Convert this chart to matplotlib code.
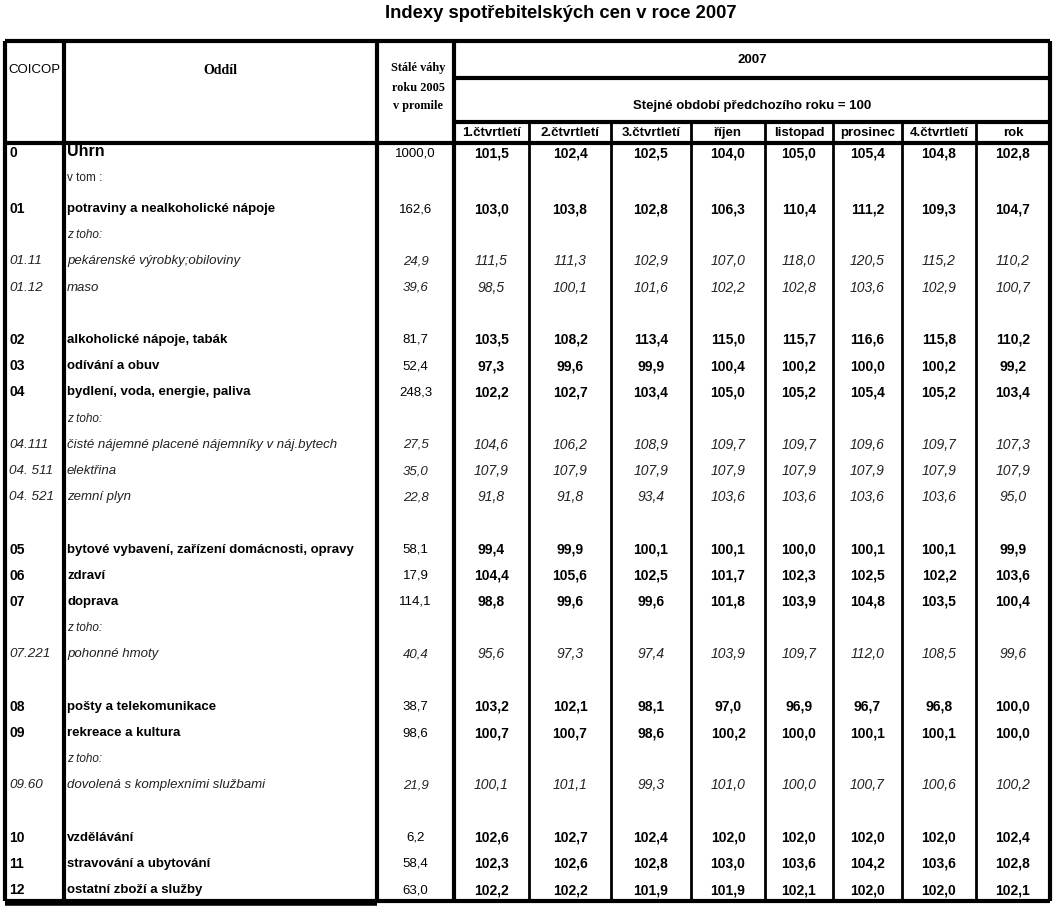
import matplotlib.pyplot as plt

# ---- data ----
title = 'Indexy spotřebitelských cen v roce 2007'
periods = ['1.čtvrtletí', '2.čtvrtletí', '3.čtvrtletí', 'říjen', 'listopad',
           'prosinec', '4.čtvrtletí', 'rok']

codes = ['0', '01', '01.11', '01.12', '02', '03', '04', '04.111', '04. 511',
         '04. 521', '05', '06', '07', '07.221', '08', '09', '09.60', '10', '11', '12']
names = ['Úhrn', 'potraviny a nealkoholické nápoje', 'pekárenské výrobky;obiloviny',
         'maso', 'alkoholické nápoje, tabák', 'odívání a obuv',
         'bydlení, voda, energie, paliva',
         'čisté nájemné placené nájemníky v náj.bytech', 'elektřina', 'zemní plyn',
         'bytové vybavení, zařízení domácnosti, opravy', 'zdraví', 'doprava',
         'pohonné hmoty', 'pošty a telekomunikace', 'rekreace a kultura',
         'dovolená s komplexními službami', 'vzdělávání', 'stravování a ubytování',
         'ostatní zboží a služby']
weights = [1000.0, 162.6, 24.9, 39.6, 81.7, 52.4, 248.3, 27.5, 35.0, 22.8,
           58.1, 17.9, 114.1, 40.4, 38.7, 98.6, 21.9, 6.2, 58.4, 63.0]

q1 = [101.5, 103.0, 111.5, 98.5, 103.5, 97.3, 102.2, 104.6, 107.9, 91.8,
      99.4, 104.4, 98.8, 95.6, 103.2, 100.7, 100.1, 102.6, 102.3, 102.2]
q2 = [102.4, 103.8, 111.3, 100.1, 108.2, 99.6, 102.7, 106.2, 107.9, 91.8,
      99.9, 105.6, 99.6, 97.3, 102.1, 100.7, 101.1, 102.7, 102.6, 102.2]
q3 = [102.5, 102.8, 102.9, 101.6, 113.4, 99.9, 103.4, 108.9, 107.9, 93.4,
      100.1, 102.5, 99.6, 97.4, 98.1, 98.6, 99.3, 102.4, 102.8, 101.9]
rijen = [104.0, 106.3, 107.0, 102.2, 115.0, 100.4, 105.0, 109.7, 107.9, 103.6,
         100.1, 101.7, 101.8, 103.9, 97.0, 100.2, 101.0, 102.0, 103.0, 101.9]
listopad = [105.0, 110.4, 118.0, 102.8, 115.7, 100.2, 105.2, 109.7, 107.9, 103.6,
            100.0, 102.3, 103.9, 109.7, 96.9, 100.0, 100.0, 102.0, 103.6, 102.1]
prosinec = [105.4, 111.2, 120.5, 103.6, 116.6, 100.0, 105.4, 109.6, 107.9, 103.6,
            100.1, 102.5, 104.8, 112.0, 96.7, 100.1, 100.7, 102.0, 104.2, 102.0]
q4 = [104.8, 109.3, 115.2, 102.9, 115.8, 100.2, 105.2, 109.7, 107.9, 103.6,
      100.1, 102.2, 103.5, 108.5, 96.8, 100.1, 100.6, 102.0, 103.6, 102.0]
rok = [102.8, 104.7, 110.2, 100.7, 110.2, 99.2, 103.4, 107.3, 107.9, 95.0,
       99.9, 103.6, 100.4, 99.6, 100.0, 100.0, 100.2, 102.4, 102.8, 102.1]
series = [q1, q2, q3, rijen, listopad, prosinec, q4, rok]

# notes between data rows (slot index -> text)
notes = {1: 'v tom :', 3: 'z toho:', 10: 'z toho:', 18: 'z toho:', 23: 'z toho:'}
# slot index of each data row
slots = [0, 2, 4, 5, 7, 8, 9, 11, 12, 13, 15, 16, 17, 19, 21, 22, 24, 26, 27, 28]

# ---- layout (pixel coords) ----
x_edges = [5, 64, 377, 454, 529, 611, 691, 765, 833, 902, 976, 1050]
y_top, y_2007, y_stejne, y_head, y_bot = 41, 78, 122, 143, 901


def slot_y(i):
    if i == 0:
        return 153
    if i == 1:
        return 178
    return 209 + (i - 2) * 26.2


def fmt(v):
    return f'{v:.1f}'.replace('.', ',')


SANS = ['Liberation Sans Narrow', 'Liberation Sans', 'DejaVu Sans']
SERIF = ['Liberation Serif', 'DejaVu Serif']

fig = plt.figure(figsize=(10.54, 9.19), dpi=100)
ax = fig.add_axes([0, 0, 1, 1])
ax.set_xlim(0, 1054)
ax.set_ylim(919, 0)
ax.axis('off')

ax.text(561, 14, title, ha='center', va='center', fontsize=13.2,
        fontweight='bold', family=['Liberation Sans', 'DejaVu Sans'])

# grid lines
thick, mid = 3.0, 2.0
ax.hlines(y_top, x_edges[0], x_edges[-1], color='black', lw=thick)
ax.hlines([y_2007, y_stejne], x_edges[3], x_edges[-1], color='black', lw=thick)
ax.hlines(y_head, x_edges[0], x_edges[-1], color='black', lw=thick)
ax.hlines(y_bot, x_edges[0], x_edges[-1], color='black', lw=thick)
ax.hlines(y_bot + 1.5, x_edges[0], x_edges[2], color='black', lw=4)
ax.vlines([x_edges[0], x_edges[1], x_edges[2], x_edges[3], x_edges[-1]],
          y_top, y_bot, color='black', lw=thick)
ax.vlines(x_edges[4:-1], y_stejne, y_bot, color='black', lw=mid)

# header texts
ax.text(8, 70, 'COICOP', ha='left', va='center', fontsize=9.5, family=SANS)
ax.text((x_edges[1] + x_edges[2]) / 2, 70, 'Oddíl', ha='center', va='center',
        fontsize=10, fontweight='bold', family=SERIF)
for yy, t in zip([68, 88, 106], ['Stálé váhy', 'roku 2005', 'v promile']):
    ax.text(418, yy, t, ha='center', va='center', fontsize=8.8,
            fontweight='bold', family=SERIF)
xc_all = (x_edges[3] + x_edges[-1]) / 2
ax.text(xc_all, 60, '2007', ha='center', va='center', fontsize=9.5,
        fontweight='bold', family=SANS)
ax.text(xc_all, 106, 'Stejné období předchozího roku = 100', ha='center',
        va='center', fontsize=9.5, fontweight='bold', family=SANS)
col_centers = [(x_edges[k] + x_edges[k + 1]) / 2 for k in range(3, 11)]
for xc, p in zip(col_centers, periods):
    ax.text(xc, 133, p, ha='center', va='center', fontsize=9.5,
            fontweight='bold', family=SANS)

# notes
for s, t in notes.items():
    ax.text(67, slot_y(s), t, ha='left', va='center', fontsize=8.5,
            style='normal' if s == 1 else 'italic', color='#222222', family=SANS)

# data rows
w_center = (x_edges[2] + x_edges[3]) / 2
for r, s in enumerate(slots):
    y = slot_y(s)
    sub = '.' in codes[r]
    style = 'italic' if sub else 'normal'
    weight = 'normal' if sub else 'bold'
    color = '#222222' if sub else 'black'
    ax.text(9, y, codes[r], ha='left', va='center',
            fontsize=9.7 if sub else 10, style=style,
            fontweight=weight, color=color, family=SANS)
    name_size = 11.5 if r == 0 else 9.5
    ax.text(67, y - (2 if r == 0 else 0), names[r], ha='left', va='center',
            fontsize=name_size, style=style, fontweight=weight, color=color,
            family=SANS)
    ax.text(w_center, y, fmt(weights[r]), ha='center', va='center',
            fontsize=9.5, style=style, color=color, family=SANS)
    for xc, vals in zip(col_centers, series):
        ax.text(xc, y, fmt(vals[r]), ha='center', va='center', fontsize=10,
                style=style, fontweight=weight, color=color, family=SANS)

fig.savefig('out.png', dpi=100)
